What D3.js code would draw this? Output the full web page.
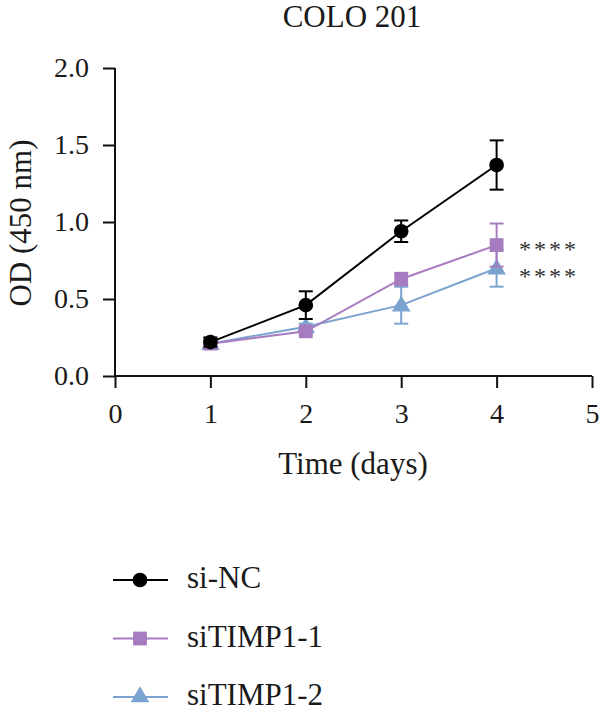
<!DOCTYPE html>
<html><head><meta charset="utf-8">
<script src="https://cdn.jsdelivr.net/npm/d3@7"></script>
<style>body{margin:0;background:#fff}svg{display:block}text{font-family:"Liberation Serif","DejaVu Serif",serif;fill:#1a1a1a}</style>
</head><body><svg id="c" width="600" height="718"></svg>
<script>
const days = [1, 2, 3, 4];
const seriesNames = ["si-NC", "siTIMP1-1", "siTIMP1-2"];
const siNC = [0.22, 0.46, 0.94, 1.37];
const siNCErr = [0.03, 0.09, 0.07, 0.16];
const siTIMP1_1 = [0.21, 0.29, 0.63, 0.85];
const siTIMP1_1Err = [0.02, 0.02, 0.04, 0.14];
const siTIMP1_2 = [0.21, 0.32, 0.46, 0.70];
const siTIMP1_2Err = [0.02, 0.02, 0.12, 0.12];
const colors = ["#000000", "#a77bbf", "#7ba3d0"];
const xTicks = [0, 1, 2, 3, 4, 5];
const yTicks = [0, 0.5, 1.0, 1.5, 2.0];
const sigLabels = ["", "****", "****"];

const series = [
  {name: seriesNames[0], v: siNC, e: siNCErr, color: colors[0], shape: d3.symbolCircle, sig: sigLabels[0]},
  {name: seriesNames[1], v: siTIMP1_1, e: siTIMP1_1Err, color: colors[1], shape: d3.symbolSquare, sig: sigLabels[1]},
  {name: seriesNames[2], v: siTIMP1_2, e: siTIMP1_2Err, color: colors[2], shape: d3.symbolTriangle, sig: sigLabels[2]}
];

const svg = d3.select("#c");
const x = d3.scaleLinear().domain([0, 5]).range([115, 592]);
const y = d3.scaleLinear().domain([0, 2]).range([376, 68]);
const FS = 31, TFS = 28;

svg.append("text").attr("x", 352).attr("y", 27).attr("text-anchor", "middle")
  .style("font-size", FS + "px").text("COLO 201");

const xa = svg.append("g").attr("transform", "translate(0,376)")
  .call(d3.axisBottom(x).tickValues(xTicks).tickFormat(d3.format("d")).tickSize(12).tickPadding(15));
const ya = svg.append("g").attr("transform", "translate(115,0)")
  .call(d3.axisLeft(y).tickValues(yTicks).tickFormat(d3.format(".1f")).tickSize(12).tickPadding(14));
[xa, ya].forEach(a => {
  a.select(".domain").attr("stroke", "#111").attr("stroke-width", 2);
  a.selectAll(".tick line").attr("stroke", "#111").attr("stroke-width", 2);
  a.selectAll(".tick text").style("font-size", TFS + "px").attr("fill", "#1a1a1a")
    .style("font-family", '"Liberation Serif",serif');
});
xa.select(".domain").attr("d", `M${x(0)},0H${x(5)}`);
ya.select(".domain").attr("d", `M0,${y(0)}V${y(2)}`);

svg.append("text").attr("x", 353).attr("y", 474).attr("text-anchor", "middle")
  .style("font-size", FS + "px").text("Time (days)");
svg.append("text").attr("transform", "translate(31,223) rotate(-90)").attr("text-anchor", "middle")
  .style("font-size", FS + "px").text("OD (450 nm)");

const line = d3.line().x((d, i) => x(days[i])).y(d => y(d));
const order = [2, 1, 0];
order.forEach(k => {
  const s = series[k];
  const g = svg.append("g");
  s.v.forEach((v, i) => {
    const cx = x(days[i]);
    g.append("line").attr("x1", cx).attr("x2", cx).attr("y1", y(v - s.e[i])).attr("y2", y(v + s.e[i]))
      .attr("stroke", s.color).attr("stroke-width", 2);
    [v - s.e[i], v + s.e[i]].forEach(t => g.append("line").attr("x1", cx - 7).attr("x2", cx + 7)
      .attr("y1", y(t)).attr("y2", y(t)).attr("stroke", s.color).attr("stroke-width", 2));
  });
  g.append("path").datum(s.v).attr("d", line).attr("fill", "none").attr("stroke", s.color).attr("stroke-width", 2);
  const sz = k === 0 ? 170 : (k === 1 ? 190 : 150);
  s.v.forEach((v, i) => {
    g.append("path").attr("d", d3.symbol().type(s.shape).size(sz)())
      .attr("transform", `translate(${x(days[i])},${y(v) + (k === 2 ? 1 : 0)})`).attr("fill", s.color);
  });
});

// significance markers
const sigOffset = [0, 12, 16];
series.forEach((s, k) => {
  if (s.sig) svg.append("text").attr("x", 519).attr("y", y(s.v[3]) + sigOffset[k])
    .style("font-size", "24px").style("letter-spacing", "3px").style("fill", "#333").text(s.sig);
});

// legend
const legY = [580, 638.5, 697];
series.forEach((s, i) => {
  const g = svg.append("g").attr("transform", `translate(0,${legY[i]})`);
  g.append("line").attr("x1", 113).attr("x2", 168).attr("stroke", s.color).attr("stroke-width", 2);
  const sz = i === 0 ? 170 : (i === 1 ? 190 : 150);
  g.append("path").attr("d", d3.symbol().type(s.shape).size(sz)()).attr("transform", "translate(140,0)").attr("fill", s.color);
  g.append("text").attr("x", 187).attr("y", 8).style("font-size", FS + "px").text(s.name);
});
</script></body></html>
